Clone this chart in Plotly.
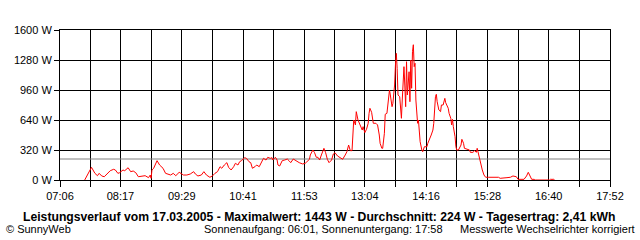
import plotly.graph_objects as go

# ---------------- data ----------------
TIMES = [
    "07:35", "07:39", "07:43", "07:47", "07:50", "07:52", "07:55", "07:58", "08:01", "08:05",
    "08:09", "08:11", "08:14", "08:16", "08:20", "08:22", "08:26", "08:29", "08:32", "08:35",
    "08:38", "08:42", "08:46", "08:50", "08:52", "08:53", "08:54", "08:56", "09:00", "09:03",
    "09:07", "09:10", "09:13", "09:16", "09:19", "09:22", "09:26",
    "09:28", "09:31", "09:35", "09:39", "09:43", "09:45", "09:48", "09:52", "09:55", "09:58",
    "10:02", "10:05", "10:08", "10:11", "10:14", "10:16", "10:19", "10:22", "10:24", "10:27",
    "10:30", "10:32", "10:35", "10:37", "10:39", "10:41", "10:43", "10:45", "10:48", "10:50",
    "10:52", "10:55", "10:57", "11:00", "11:02", "11:05", "11:08", "11:10", "11:13", "11:15",
    "11:16", "11:19", "11:21", "11:22", "11:24", "11:27", "11:30", "11:33", "11:35", "11:37",
    "11:40", "11:43", "11:47", "11:51", "11:54", "11:56", "11:59", "12:00", "12:03", "12:05",
    "12:07", "12:09", "12:11", "12:13", "12:16", "12:18", "12:20", "12:22", "12:25", "12:27",
    "12:29", "12:32", "12:35", "12:38", "12:41", "12:43", "12:45", "12:47", "12:49", "12:50",
    "12:51", "12:53", "12:54", "12:56", "12:57", "12:59", "13:01", "13:02", "13:04", "13:06",
    "13:08", "13:09",
    "13:10", "13:12", "13:14", "13:17", "13:19", "13:21", "13:22", "13:24", "13:25", "13:27",
    "13:28", "13:30", "13:32", "13:33", "13:34", "13:36", "13:37", "13:39", "13:40", "13:41",
    "13:42", "13:43", "13:45", "13:46", "13:47", "13:48", "13:50", "13:51", "13:52", "13:53",
    "13:54", "13:56", "13:57", "13:58", "13:59", "14:00", "14:01", "14:02", "14:03", "14:04",
    "14:05", "14:06", "14:07", "14:08", "14:09", "14:11", "14:12", "14:14", "14:17", "14:18",
    "14:20", "14:22", "14:24", "14:25", "14:27", "14:28", "14:29", "14:31", "14:33", "14:34",
    "14:36", "14:37",
    "14:38", "14:39", "14:41", "14:42", "14:43", "14:45", "14:46", "14:47", "14:48", "14:50",
    "14:51", "14:52", "14:54", "14:57", "14:58", "15:00", "15:01", "15:04", "15:07", "15:08",
    "15:11", "15:13", "15:15", "15:16", "15:18", "15:20", "15:22", "15:24", "15:26", "15:29",
    "15:41", "15:43", "15:47", "15:51", "15:55", "15:58", "16:02", "16:04", "16:11", "16:14",
    "16:16", "16:18", "16:20", "16:23", "16:24", "16:41", "16:42", "16:46", "16:47",
]

WATTS = [
    0, 71, 135, 71, 46, 71, 43, 35, 61, 99,
    114, 107, 71, 78, 107, 99, 131, 89, 96, 78,
    35, 43, 46, 25, 53, 18, 107, 125, 206, 160,
    125, 71, 64, 53, 71, 46, 82,
    71, 53, 53, 64, 89, 64, 43, 53, 89, 53,
    29, 43, 71, 89, 142, 125, 160, 185, 135, 107,
    142, 178, 160, 195, 206, 221, 238, 231, 195, 185,
    125, 142, 160, 142, 178, 231, 213, 242, 231, 238,
    213, 242, 213, 160, 149, 206, 213, 224, 206, 185,
    224, 206, 185, 171, 178, 195, 221, 267, 320, 291,
    242, 242, 213, 267, 338, 291, 221, 185, 213, 277,
    291, 256, 242, 221, 267, 302, 373, 313, 313, 569,
    640, 587, 729, 640, 622, 569, 533, 569, 505, 541,
    605, 711,
    765, 722, 605, 605, 587, 480, 391, 338, 338, 498,
    701, 711, 871, 960, 907, 782, 818, 1013, 1227, 1351,
    1191, 907, 889, 765, 658, 853, 1209, 1013, 782, 1262,
    907, 1155, 835, 1280, 978, 1369, 1443, 1209, 1245, 853,
    711, 605, 640, 551, 409, 320, 302, 355, 355, 391,
    427, 480, 533, 605, 889, 914, 835, 747, 729, 800,
    800, 835,
    871, 825, 782, 765, 711, 658, 587, 647, 569, 462,
    355, 320, 320, 373, 434, 391, 338, 327, 320, 295,
    295, 313, 295, 338, 249, 178, 107, 53, 29, 29,
    29, 18, 25, 25, 29, 43, 35, 7, 7, 43,
    82, 43, 7, 7, 0, 0, 7, 7, 0,
]

TICK_LABELS = ["07:06", "08:17", "09:29", "10:41", "11:53",
               "13:04", "14:16", "15:28", "16:40", "17:52"]
Y_TICKS = [0, 320, 640, 960, 1280, 1600]
AVG_W = 224

TITLE = ("Leistungsverlauf vom 17.03.2005 - Maximalwert: 1443 W - "
         "Durchschnitt: 224 W - Tagesertrag: 2,41 kWh")
FOOT_LEFT = "© SunnyWeb"
FOOT_MID = "Sonnenaufgang: 06:01, Sonnenuntergang: 17:58"
FOOT_RIGHT = "Messwerte Wechselrichter korrigiert"

assert len(TIMES) == len(WATTS)


def to_min(s):
    h, m = s.split(":")
    return int(h) * 60 + int(m)


x = [to_min(t) for t in TIMES]
tickvals = [to_min(t) for t in TICK_LABELS]
minorvals = [(a + b) / 2 for a, b in zip(tickvals[:-1], tickvals[1:])]
x0, x1 = tickvals[0], tickvals[-1]

FONT = "Liberation Sans, Arial, sans-serif"

fig = go.Figure()
fig.add_trace(go.Scatter(x=[x0, x1], y=[AVG_W, AVG_W], mode="lines",
                         line=dict(color="#808080", width=1),
                         hoverinfo="skip", showlegend=False))
fig.add_trace(go.Scatter(x=x, y=WATTS, mode="lines",
                         line=dict(color="#ff0000", width=1),
                         showlegend=False))

fig.update_layout(
    width=640, height=240, autosize=False,
    margin=dict(l=60, r=30, t=30, b=60, pad=0),
    paper_bgcolor="white", plot_bgcolor="white",
    font=dict(family=FONT, size=11, color="black"),
    showlegend=False,
)

fig.update_xaxes(
    range=[x0, x1], tickmode="array", tickvals=tickvals, ticktext=TICK_LABELS,
    showgrid=True, gridcolor="black", gridwidth=1,
    showline=True, linecolor="black", linewidth=1, mirror=True,
    ticks="outside", ticklen=6, tickcolor="black", tickwidth=1,
    minor=dict(tickmode="array", tickvals=minorvals, showgrid=True,
               gridcolor="black", gridwidth=1, ticks="outside",
               ticklen=6, tickcolor="black", tickwidth=1),
    zeroline=False, fixedrange=True,
    tickfont=dict(family=FONT, size=11, color="black"),
)
fig.update_yaxes(
    range=[Y_TICKS[0], Y_TICKS[-1]], tickmode="array", tickvals=Y_TICKS,
    ticktext=[f"{v} W" for v in Y_TICKS],
    showgrid=True, gridcolor="black", gridwidth=1,
    showline=True, linecolor="black", linewidth=1, mirror=True,
    ticks="outside", ticklen=5, tickcolor="black", tickwidth=1,
    zeroline=False, fixedrange=True,
    tickfont=dict(family=FONT, size=11, color="black"),
)

common = dict(xref="paper", yref="paper", showarrow=False,
              borderpad=0, borderwidth=0, yanchor="middle")
fig.add_annotation(text="<b>" + TITLE + "</b>", x=(319 - 60) / 550,
                   y=(180 - 217) / 150, xanchor="center",
                   font=dict(family=FONT, size=12.2, color="black"), **common)
fig.add_annotation(text=FOOT_LEFT, x=(6 - 60) / 550, y=(180 - 229) / 150,
                   xanchor="left", font=dict(family=FONT, size=11, color="black"),
                   **common)
fig.add_annotation(text=FOOT_MID, x=(204 - 60) / 550, y=(180 - 229) / 150,
                   xanchor="left", font=dict(family=FONT, size=11, color="black"),
                   **common)
fig.add_annotation(text=FOOT_RIGHT, x=(635 - 60) / 550, y=(180 - 229) / 150,
                   xanchor="right", font=dict(family=FONT, size=11, color="black"),
                   **common)

fig.write_html("out.html", config={"displayModeBar": False})
